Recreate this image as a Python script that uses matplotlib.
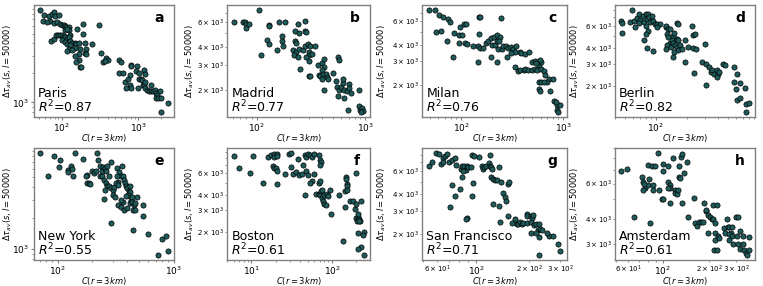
import numpy as np
import matplotlib
matplotlib.use('Agg')
import matplotlib.pyplot as plt


cities = ['Paris', 'Madrid', 'Milan', 'Berlin',
          'New York', 'Boston', 'San Francisco', 'Amsterdam']
letters = ['a', 'b', 'c', 'd', 'e', 'f', 'g', 'h']
r2 = [0.87, 0.77, 0.76, 0.82, 0.55, 0.61, 0.71, 0.61]

# (C(r=3km), delta tau_av) pairs
paris = [(52, 8700), (58, 7800), (57, 6800), (67, 7500), (70, 6700), (75, 7900),
         (78, 8300), (80, 7500), (92, 7800), (64, 6600), (78, 6500), (86, 6600),
         (93, 6300), (100, 6200), (105, 6100), (110, 6000), (114, 5800), (122, 5800),
         (125, 5500), (110, 5400), (116, 5600), (128, 4900), (160, 5600), (190, 6300),
         (310, 6100), (72, 4200), (78, 4400), (84, 4900), (90, 4900), (95, 4800),
         (100, 4900), (105, 4700), (110, 4600), (116, 4400), (122, 4600), (100, 4300),
         (110, 4100), (116, 3900), (128, 4200), (135, 4000), (150, 4000), (155, 3900),
         (165, 4000), (175, 3500), (128, 3800), (150, 3600), (200, 4000), (210, 3500),
         (122, 3500), (135, 3400), (116, 3300), (165, 3100), (150, 3000), (170, 2700),
         (155, 2600), (175, 2300), (180, 2300), (190, 5000), (250, 3900), (200, 3200),
         (210, 3100), (330, 3200), (350, 2600), (380, 2800), (400, 2700), (370, 2650),
         (570, 2700), (600, 2600), (560, 2000), (630, 2000), (670, 1600), (730, 1750),
         (780, 1900), (800, 2400), (820, 2350), (970, 2350), (950, 2100), (1020, 2000),
         (780, 1500), (1040, 1750), (1100, 1750), (1150, 1500), (1130, 1700), (1200, 1500),
         (1250, 1600), (1230, 1400), (1300, 1350), (1400, 1300), (1500, 1300), (1550, 1300),
         (1650, 1350), (1700, 1250), (1800, 1200), (1950, 1300), (1700, 1100), (1850, 1100),
         (2000, 1100), (2450, 980), (2000, 800), (1000, 1400), (820, 1400), (700, 1400),
         (1200, 2150), (1250, 1950), (1500, 1500)]

madrid = [(61, 6000), (74, 6050), (78, 6050), (80, 5800), (79, 5500), (85, 5800),
          (105, 7300), (130, 5700), (130, 5600), (160, 6000), (180, 6000), (240, 5800),
          (275, 6150), (125, 4500), (130, 4200), (110, 3500), (155, 3800), (170, 4800),
          (170, 4400), (175, 4100), (225, 5200), (245, 5000), (275, 5200), (285, 5100),
          (225, 4400), (230, 4300), (215, 3800), (230, 3700), (220, 3500), (240, 3400),
          (245, 3900), (265, 3800), (275, 4100), (295, 4200), (310, 4100), (340, 4050),
          (300, 3700), (300, 3500), (300, 3200), (285, 3400), (250, 2800), (300, 2500),
          (310, 2500), (320, 3600), (365, 3000), (370, 2550), (385, 2500), (400, 3100),
          (415, 3300), (415, 2900), (400, 2750), (410, 2600), (430, 2600), (440, 2450),
          (395, 2400), (415, 2000), (450, 2400), (500, 2650), (540, 2300), (560, 3400),
          (570, 3250), (545, 2100), (560, 1800), (570, 2000), (600, 2100), (620, 2250),
          (630, 2000), (640, 1750), (670, 1950), (700, 2200), (710, 2050), (730, 1900),
          (690, 1450), (880, 2000), (880, 1550), (900, 1450), (930, 1500), (960, 1430),
          (920, 1400), (620, 2400)]

milan = [(48, 7300), (55, 7300), (61, 6700), (66, 6500), (75, 6300), (78, 5900),
         (57, 5000), (63, 5100), (73, 4300), (86, 4900), (95, 4700), (98, 5400),
         (107, 5700), (112, 5700), (102, 4700), (96, 4150), (110, 4150), (115, 4050),
         (130, 3950), (145, 3950), (152, 3800), (165, 3800), (150, 6500), (152, 6500),
         (150, 4800), (177, 4150), (185, 4300), (195, 4500), (210, 4600), (225, 4750),
         (240, 4600), (245, 6400), (200, 4000), (215, 4000), (225, 4300), (235, 4300),
         (230, 3700), (250, 3750), (260, 3900), (275, 3950), (290, 3800), (305, 3850),
         (320, 3700), (345, 3900), (335, 3550), (375, 3550), (390, 3450), (425, 3400),
         (460, 3550), (305, 3450), (280, 3250), (195, 3250), (225, 2950), (145, 2950),
         (84, 3250), (335, 2700), (360, 2550), (375, 2600), (410, 2600), (425, 2650),
         (455, 2600), (490, 2600), (525, 2650), (555, 2600), (575, 2800), (610, 2950),
         (490, 2950), (525, 3000), (545, 2900), (590, 3050), (610, 2650), (650, 2550),
         (665, 2350), (720, 2200), (700, 2100), (790, 2200), (575, 2100), (610, 2100),
         (650, 2100), (575, 1850), (590, 1800), (750, 1800), (820, 1500), (880, 1400),
         (940, 1400), (880, 1300), (900, 1250), (860, 1480)]

berlin = [(46, 6500), (47, 6300), (47, 5300), (56, 6400), (59, 8000), (61, 6500),
          (62, 5850), (65, 6900), (68, 7500), (70, 6700), (74, 7200), (68, 6300),
          (76, 6400), (80, 7500), (84, 7400), (82, 6850), (86, 7000), (91, 7200),
          (87, 6400), (94, 6500), (80, 6000), (84, 5500), (80, 5200), (77, 4650),
          (82, 4000), (94, 3800), (98, 6200), (102, 6250), (110, 6200), (102, 5850),
          (125, 5900), (125, 6000), (132, 5650), (137, 5650), (160, 6300), (163, 6200),
          (148, 4950), (150, 5250), (128, 5150), (130, 4900), (137, 4400), (128, 4200),
          (124, 3950), (139, 4050), (143, 4650), (148, 4400), (155, 4250), (160, 4700),
          (165, 4600), (160, 4050), (165, 3850), (150, 3750), (148, 3400), (170, 4250),
          (180, 3950), (190, 4600), (190, 3100), (205, 4050), (225, 6000), (230, 5050),
          (240, 5200), (230, 4000), (245, 3950), (235, 2550), (300, 4300), (280, 3100),
          (305, 3000), (310, 2050), (330, 2850), (345, 2600), (355, 2700), (365, 2500),
          (390, 2700), (405, 2500), (390, 2350), (415, 2600), (455, 3000), (475, 2950),
          (570, 2850), (610, 2500), (570, 2150), (665, 2100), (600, 1900), (735, 1950),
          (620, 1550), (665, 1600), (760, 1450), (800, 1480), (760, 1250)]

new_york = [(71, 8600), (93, 8000), (104, 7300), (102, 6300), (82, 5100), (122, 5900),
            (130, 6400), (133, 6000), (135, 5100), (122, 5600), (140, 8600), (165, 7600),
            (180, 5300), (175, 5200), (178, 4400), (185, 4400), (190, 4300), (200, 5700),
            (205, 5500), (215, 5700), (220, 8600), (225, 7300), (230, 6500), (240, 5700),
            (245, 6300), (255, 6200), (260, 5700), (265, 6500), (275, 5100), (290, 7000),
            (230, 5200), (240, 5100), (250, 4700), (260, 4400), (265, 4100), (255, 3800),
            (275, 4100), (290, 3900), (300, 3800), (305, 4000), (250, 3100), (300, 3400),
            (310, 3200), (325, 6100), (340, 5600), (350, 5100), (360, 6500), (370, 5100),
            (375, 4700), (380, 4400), (390, 4100), (325, 5200), (330, 4500), (320, 4400),
            (335, 4200), (400, 3900), (410, 3700), (420, 4100), (425, 3600), (405, 3400),
            (390, 3300), (370, 2900), (350, 3000), (335, 2700), (355, 2600), (375, 2400),
            (400, 2500), (420, 2800), (430, 3000), (440, 3200), (440, 2900), (460, 2700),
            (470, 2800), (450, 2400), (480, 3200), (470, 2400), (545, 2700), (545, 2100),
            (290, 1800), (450, 1550), (605, 1400), (790, 1250), (860, 1350), (740, 880),
            (890, 950)]

boston = [(6, 8400), (7, 6600), (9.7, 6100), (10.5, 8300), (14, 5000), (16, 8200),
          (17.5, 8500), (19, 8600), (19, 8200), (20.5, 8700), (21, 8300), (18.5, 6900),
          (19, 6700), (20, 6600), (21, 6300), (21, 4900), (26, 5900), (29, 8600),
          (31, 8800), (31, 6800), (33, 5900), (36, 6200), (38, 7900), (39, 5800),
          (42, 5900), (46, 8500), (48, 8200), (50, 8700), (53, 8500), (56, 8200),
          (59, 8700), (44, 7100), (48, 6300), (50, 5800), (56, 5200), (53, 5000),
          (46, 4000), (59, 5900), (68, 8500), (70, 7700), (73, 7400), (70, 7000),
          (68, 5000), (71, 5200), (64, 4100), (68, 4100), (71, 4000), (73, 4300),
          (76, 4400), (75, 3800), (78, 3600), (80, 3400), (83, 3300), (80, 4000),
          (86, 4100), (88, 3900), (94, 4400), (97, 2800), (122, 4000), (145, 4300),
          (150, 5600), (150, 5400), (152, 4900), (155, 4700), (152, 4400), (145, 3200),
          (200, 6000), (165, 3600), (180, 3600), (190, 3100), (195, 3400), (200, 2600),
          (205, 2450), (210, 2650), (215, 2550), (220, 2450), (210, 2800), (215, 2450),
          (225, 3600), (210, 1950), (135, 1700), (245, 2000), (240, 1900), (225, 1500),
          (210, 1450), (245, 1300)]

san_francisco = [(53.5, 6600), (55.6, 7000), (59, 8200), (61, 8100), (63, 6800), (65, 7500),
                 (66, 7800), (68, 8100), (65, 7000), (70, 7000), (73, 7300), (76, 7500),
                 (77, 6700), (73, 4700), (76, 3900), (71, 3200), (81, 4400), (82, 6200),
                 (83, 6600), (85, 6500), (87, 6100), (84, 6000), (83, 5400), (88, 6600),
                 (90, 6400), (93, 6450), (88, 2650), (87, 2600), (95, 8000), (97, 7800),
                 (96, 4900), (95, 3900), (104, 7700), (107, 6500), (109, 6200), (111, 6400),
                 (114, 6500), (119, 7900), (118, 6900), (120, 6600), (121, 6400), (123, 6200),
                 (121, 5400), (125, 5200), (128, 5100), (131, 5100), (125, 3400), (134, 3300),
                 (134, 6400), (138, 5000), (142, 4100), (145, 3800), (147, 3600), (151, 4800),
                 (154, 5000), (136, 2500), (152, 2750), (159, 2450), (166, 2600), (169, 2400),
                 (173, 2400), (176, 2500), (181, 2400), (183, 2450), (193, 2850), (195, 2750),
                 (203, 2750), (206, 2650), (209, 2800), (193, 2450), (203, 2500), (213, 2350),
                 (218, 2400), (227, 2400), (223, 2150), (230, 2200), (237, 2150), (203, 2050),
                 (227, 1900), (257, 1950), (252, 2050), (292, 1700), (300, 1500), (227, 1400),
                 (272, 1950), (218, 2050)]

amsterdam = [(54, 6900), (59, 7050), (65, 4100), (73, 6500), (75, 6100), (77, 5700),
             (80, 5900), (82, 6300), (74, 5600), (76, 5950), (80, 7400), (85, 7300),
             (83, 3800), (86, 5900), (87, 5600), (89, 7300), (93, 8500), (95, 5600),
             (99, 5000), (101, 5050), (100, 7500), (101, 6900), (108, 7300), (109, 6100),
             (111, 5900), (112, 5700), (108, 5700), (117, 8000), (120, 5600), (121, 5400),
             (123, 5350), (125, 5600), (127, 7300), (127, 6500), (129, 6400), (131, 8100),
             (133, 8400), (137, 6800), (111, 4800), (133, 4800), (143, 7700), (145, 4100),
             (159, 5100), (162, 3800), (166, 3700), (173, 3850), (178, 3850), (183, 3850),
             (186, 4800), (191, 4400), (196, 4200), (201, 4100), (196, 3400), (191, 4450),
             (207, 4000), (212, 4000), (212, 4700), (223, 4700), (217, 3800), (219, 3400),
             (228, 3300), (219, 3150), (214, 2800), (223, 2800), (231, 3200), (249, 3600),
             (254, 3400), (260, 4000), (265, 3650), (270, 3650), (276, 3400), (281, 3650),
             (270, 3350), (281, 3300), (297, 4100), (307, 4100), (302, 3300), (318, 3500),
             (329, 3300), (286, 3000), (307, 3000), (318, 2850), (334, 2800), (345, 2700),
             (350, 2650), (360, 2800), (360, 3250), (329, 3000), (270, 3150)]

city_data = [paris, madrid, milan, berlin, new_york, boston, san_francisco, amsterdam]

W, H = 763, 286
fig = plt.figure(figsize=(W / 100, H / 100), dpi=100)

# axes boxes in pixels: left, right / top, bottom
col_px = [(34, 174), (227, 370), (422, 567), (615, 755)]
row_px = [(5, 117), (148, 260)]
# right edge of the rotated y label, pixels
ylab_px = [14, 196, 388, 581]

for i, (city, data) in enumerate(zip(cities, city_data)):
    r, c = divmod(i, 4)
    x0, x1 = col_px[c]
    y0, y1 = row_px[r]
    ax = fig.add_axes([x0 / W, 1 - y1 / H, (x1 - x0) / W, (y1 - y0) / H])
    pts = np.array(data, dtype=float)
    ax.scatter(pts[:, 0], pts[:, 1], s=14, c='#1f5b5b', edgecolors='black',
               linewidths=0.5, zorder=3)
    ax.set_xscale('log')
    ax.set_yscale('log')

    for sp in ax.spines.values():
        sp.set_color('0.5')
        sp.set_linewidth(1.0)
    ax.tick_params(which='both', color='0.5', pad=1)
    ax.tick_params(which='major', labelsize=6.5, length=2.5)
    ax.tick_params(which='minor', labelsize=5, length=1.5)

    ax.set_xlabel('$C(r = 3km)$', fontsize=6)
    ax.set_ylabel(r'$\Delta\tau_{av}(s, l = 50000)$', fontsize=6)
    ax.xaxis.set_label_coords(0.5, -0.135)
    ax.yaxis.set_label_coords((ylab_px[c] - x0) / (x1 - x0), 0.5)

    ax.text(0.03, 0.175, city, transform=ax.transAxes, fontsize=9,
            va='baseline', ha='left')
    ax.text(0.03, 0.045, '$R^2$=%.2f' % r2[i], transform=ax.transAxes,
            fontsize=9, va='baseline', ha='left')
    ax.text(0.93, 0.95, letters[i], transform=ax.transAxes, fontsize=10,
            fontweight='bold', va='top', ha='right')

fig.savefig('out.png', dpi=100)
